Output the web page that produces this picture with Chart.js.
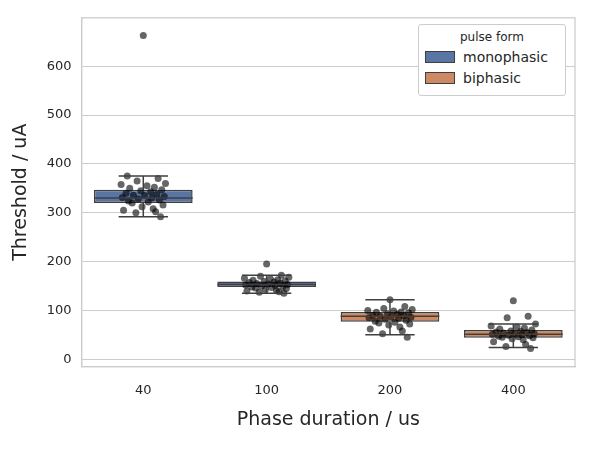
<!DOCTYPE html>
<html><head><meta charset="utf-8">
<script src="https://cdn.jsdelivr.net/npm/chart.js@4"></script>
<style>
body{margin:0;background:#fff;font-family:"DejaVu Sans",sans-serif}
#wrap{position:relative;width:589px;height:449px}
#legend{position:absolute;left:418px;top:24px;width:146px;height:70px;border:1px solid #ccc;border-radius:3px;background:#fff;font-size:14px;color:#262626}
#legend .t{text-align:center;margin-top:5px;font-size:12px}
#legend .r{display:flex;align-items:center;margin:5px 0 0 6px}
#legend .s{width:28px;height:10px;border:1px solid #3f3f3f;margin-right:8px}
</style></head><body>
<div id="wrap"><canvas id="c" width="589" height="449"></canvas>
<div id="legend"><div class="t">pulse form</div>
<div class="r"><div class="s" style="background:#5975a4"></div>monophasic</div>
<div class="r"><div class="s" style="background:#cc8963"></div>biphasic</div></div></div>
<script>
// Data
const categories = ['40', '100', '200', '400'];
const q1 = [320, 148, 77, 44];
const q3 = [347, 159, 97, 60];
const medians = [330, 153, 88, 51];
const whiskLo = [292, 135, 50, 24];
const whiskHi = [375, 172, 122, 72];
const yTicks = [0, 100, 200, 300, 400, 500, 600];
const pulseForm = ['monophasic', 'monophasic', 'biphasic', 'biphasic'];

const ptOffsets = [0.0,0.12,-0.05,0.18,-0.18,0.03,0.09,-0.11,0.15,-0.02,0.06,-0.14,0.11,-0.08,0.01,0.17,-0.17,0.07,-0.04,0.13,-0.12,0.04,-0.09,0.16,-0.01,0.08,-0.16,0.1,-0.06,0.14,-0.13];
const pts40 = [663,370,365,360,358,355,352,350,347,345,343,340,338,336,335,333,331,330,328,326,324,322,320,316,312,308,305,302,300,292,375];
const pts100 = [195,172,170,168,166,165,163,162,160,159,158,157,156,155,154,153,152,151,150,149,148,147,146,145,143,141,140,138,137,135];
const pts200 = [122,108,104,102,100,99,97,96,95,93,92,90,89,88,87,86,85,84,82,80,78,76,74,72,70,66,62,58,52,45];
const pts400 = [120,88,85,72,68,66,64,62,60,58,57,56,55,54,53,52,51,50,49,48,47,46,45,44,42,40,36,30,26,22];

const pointData = [];
[pts40, pts100, pts200, pts400].forEach((arr, i) => {
    arr.forEach((v, j) => pointData.push({ x: i + ptOffsets[j % ptOffsets.length], y: v }));
});

const boxPlugin = {
    id: 'boxes',
    afterDatasetsDraw(chart) {
        const ctx = chart.ctx, x = chart.scales.xs, y = chart.scales.y;
        ctx.save();
        ctx.strokeStyle = '#3f3f3f';
        ctx.lineWidth = 1.5;
        categories.forEach((c, i) => {
            const cx = x.getPixelForValue(i);
            const half = x.getPixelForValue(i + 0.4) - cx;
            const cap = half * 0.5;
            ctx.beginPath();
            ctx.moveTo(cx - half, y.getPixelForValue(medians[i]));
            ctx.lineTo(cx + half, y.getPixelForValue(medians[i]));
            ctx.moveTo(cx, y.getPixelForValue(q3[i]));
            ctx.lineTo(cx, y.getPixelForValue(whiskHi[i]));
            ctx.moveTo(cx, y.getPixelForValue(q1[i]));
            ctx.lineTo(cx, y.getPixelForValue(whiskLo[i]));
            ctx.moveTo(cx - cap, y.getPixelForValue(whiskHi[i]));
            ctx.lineTo(cx + cap, y.getPixelForValue(whiskHi[i]));
            ctx.moveTo(cx - cap, y.getPixelForValue(whiskLo[i]));
            ctx.lineTo(cx + cap, y.getPixelForValue(whiskLo[i]));
            ctx.stroke();
        });
        ctx.restore();
    }
};

new Chart(document.getElementById('c'), {
    data: {
        labels: categories,
        datasets: [
            {
                type: 'bar', label: 'monophasic', grouped: false, order: 3,
                data: categories.map((c, i) => pulseForm[i] === 'monophasic' ? [q1[i], q3[i]] : null),
                backgroundColor: '#5975a4', borderColor: '#3f3f3f', borderWidth: 1.5, borderSkipped: false,
                barPercentage: 0.8, categoryPercentage: 1
            },
            {
                type: 'bar', label: 'biphasic', grouped: false, order: 3,
                data: categories.map((c, i) => pulseForm[i] === 'biphasic' ? [q1[i], q3[i]] : null),
                backgroundColor: '#cc8963', borderColor: '#3f3f3f', borderWidth: 1.5, borderSkipped: false,
                barPercentage: 0.8, categoryPercentage: 1
            },
            {
                type: 'scatter', label: 'points', xAxisID: 'xs', order: 1,
                data: pointData,
                pointRadius: 3.5, backgroundColor: 'rgba(0,0,0,0.6)', borderWidth: 0
            }
        ]
    },
    options: {
        responsive: false, animation: false,
        layout: { padding: { top: 15, right: 14, left: 6, bottom: 16 } },
        plugins: { legend: { display: false }, tooltip: { enabled: false } },
        scales: {
            x: {
                type: 'category', offset: true,
                grid: { display: false },
                border: { color: '#cccccc', width: 1.25 },
                ticks: { color: '#262626', font: { family: 'DejaVu Sans', size: 13 }, padding: 8 },
                title: { display: true, text: 'Phase duration / us', color: '#262626', font: { family: 'DejaVu Sans', size: 19 }, padding: 2 }
            },
            xs: { type: 'linear', min: -0.5, max: 3.5, display: false },
            y: {
                min: -15, max: 699,
                afterBuildTicks: s => { s.ticks = yTicks.map(v => ({ value: v })); },
                grid: { color: '#cccccc', drawTicks: false },
                border: { color: '#cccccc', width: 1.25 },
                ticks: { color: '#262626', font: { family: 'DejaVu Sans', size: 13 }, padding: 10 },
                title: { display: true, text: 'Threshold / uA', color: '#262626', font: { family: 'DejaVu Sans', size: 19 }, padding: 4 }
            }
        }
    },
    plugins: [boxPlugin, {
        id: 'frame',
        afterDraw(chart) {
            const a = chart.chartArea, ctx = chart.ctx;
            ctx.save(); ctx.strokeStyle = '#cccccc'; ctx.lineWidth = 1.25;
            ctx.strokeRect(a.left, a.top, a.right - a.left, a.bottom - a.top);
            ctx.restore();
        }
    }]
});
</script></body></html>
